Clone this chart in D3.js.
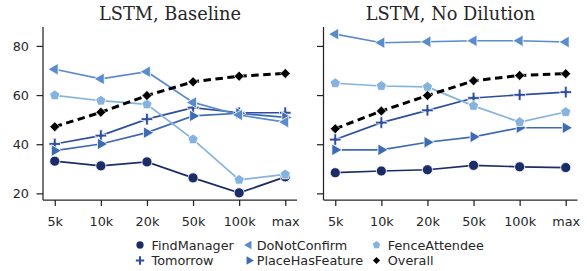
<!DOCTYPE html>
<html>
<head>
<meta charset="utf-8">
<script src="https://cdn.jsdelivr.net/npm/d3@7"></script>
<style>
  body { margin: 0; background: #fff; }
  text { font-family: "DejaVu Sans", sans-serif; fill: #262626; }
</style>
</head>
<body>
<div id="chart"></div>
<script>
// data
const sizes = ["5k", "10k", "20k", "50k", "100k", "max"];
const yTicks = [20, 40, 60, 80];
const seriesNames = ["FindManager", "Tomorrow", "PlaceHasFeature", "DoNotConfirm", "FenceAttendee", "Overall"];

const baselineFindManager = [33.1, 31.2, 32.8, 26.3, 20.2, 26.7];
const baselineTomorrow = [40.1, 43.5, 50.2, 54.9, 52.8, 52.8];
const baselinePlaceHasFeature = [37.4, 40.1, 44.7, 51.5, 52.6, 50.9];
const baselineDoNotConfirm = [70.5, 66.6, 69.5, 57.0, 51.9, 49.0];
const baselineFenceAttendee = [59.9, 57.7, 56.2, 42.0, 25.5, 27.7];
const baselineOverall = [47.1, 53.0, 59.8, 65.4, 67.7, 68.8];

const noDilFindManager = [28.4, 29.1, 29.6, 31.4, 30.8, 30.5];
const noDilTomorrow = [41.9, 48.8, 53.8, 58.8, 60.1, 61.2];
const noDilPlaceHasFeature = [37.7, 37.7, 40.8, 43.0, 46.7, 46.7];
const noDilDoNotConfirm = [84.8, 81.3, 81.7, 82.1, 82.1, 81.6];
const noDilFenceAttendee = [64.8, 63.7, 63.3, 55.6, 49.0, 53.1];
const noDilOverall = [46.3, 53.5, 59.8, 65.8, 68.0, 68.7];

const panels = [
    {title: "LSTM, Baseline", left: 43, showY: true,
     values: [baselineFindManager, baselineTomorrow, baselinePlaceHasFeature,
              baselineDoNotConfirm, baselineFenceAttendee, baselineOverall]},
    {title: "LSTM, No Dilution", left: 323.5, showY: false,
     values: [noDilFindManager, noDilTomorrow, noDilPlaceHasFeature,
              noDilDoNotConfirm, noDilFenceAttendee, noDilOverall]}
];

const style = {
    FindManager:     {color: "#1c2c66", size: 80},
    Tomorrow:        {color: "#2d4e9e"},
    PlaceHasFeature: {color: "#3e6ab3", size: 60, rot: 90},
    DoNotConfirm:    {color: "#5a8ccb", size: 60, rot: -90},
    FenceAttendee:   {color: "#86b3dd"},
    Overall:         {color: "#000000", rot: 45}
};

const W = 587, H = 271;
const plotTop = 27, plotBottom = 200, panelW = 254;

const svg = d3.select("#chart").append("svg")
    .attr("width", W).attr("height", H);

const y = d3.scaleLinear().domain([17.3, 87.7]).range([plotBottom, plotTop]);

const pentagon = r => {
    const pts = d3.range(5).map(i => {
        const a = -Math.PI / 2 + i * 2 * Math.PI / 5;
        return [r * Math.cos(a), r * Math.sin(a)];
    });
    return "M" + pts.join("L") + "Z";
};
const plusPath = (r, w) => `M${-r},${-w}H${-w}V${-r}H${w}V${-w}H${r}V${w}H${w}V${r}H${-w}V${w}H${-r}Z`;

const markerPath = name => {
    const s = style[name];
    if (name === "FenceAttendee") return pentagon(5.4);
    if (name === "Tomorrow") return plusPath(5.8, 1.4);
    if (name === "Overall") return d3.symbol(d3.symbolSquare, 50)();
    if (name === "FindManager") return d3.symbol(d3.symbolCircle, s.size)();
    return d3.symbol(d3.symbolTriangle, s.size)();
};
const markerRot = name => style[name].rot || 0;

panels.forEach(p => {
    const x = d3.scalePoint().domain(sizes)
        .range([p.left, p.left + panelW]).padding(0.255);
    const g = svg.append("g");

    g.append("text")
        .attr("x", p.left + panelW / 2)
        .attr("y", 20)
        .attr("text-anchor", "middle")
        .style("font-family", "'DejaVu Serif', serif")
        .style("font-size", "17.8px")
        .text(p.title);

    const xAxis = g.append("g")
        .attr("transform", `translate(0,${plotBottom})`)
        .call(d3.axisBottom(x).tickSize(6).tickPadding(11));
    const yAxis = g.append("g")
        .attr("transform", `translate(${p.left},0)`)
        .call(d3.axisLeft(y).tickValues(yTicks).tickSize(6.5).tickPadding(7.5)
              .tickFormat(p.showY ? d3.format("d") : () => ""));
    [xAxis, yAxis].forEach(a => {
        a.select(".domain").remove();
        a.selectAll(".tick line").attr("stroke", "#262626").attr("stroke-width", 1.25);
        a.selectAll(".tick text").style("font-size", "12.8px").attr("fill", "#262626");
    });
    g.append("line").attr("x1", p.left).attr("x2", p.left + panelW)
        .attr("y1", plotBottom).attr("y2", plotBottom)
        .attr("stroke", "#262626").attr("stroke-width", 1.25);
    g.append("line").attr("x1", p.left).attr("x2", p.left)
        .attr("y1", plotTop).attr("y2", plotBottom)
        .attr("stroke", "#262626").attr("stroke-width", 1.25);

    const line = d3.line().x((d, i) => x(sizes[i])).y(d => y(d));

    seriesNames.forEach((name, si) => {
        const vals = p.values[si];
        const s = style[name];
        g.append("path")
            .attr("d", line(vals))
            .attr("fill", "none")
            .attr("stroke", s.color)
            .attr("stroke-width", name === "Overall" ? 3 : 1.7)
            .attr("stroke-dasharray", name === "Overall" ? "7.5,4.5" : null);
        g.selectAll(null).data(vals).enter().append("path")
            .attr("d", markerPath(name))
            .attr("transform", (d, i) => `translate(${x(sizes[i])},${y(d)}) rotate(${markerRot(name)})`)
            .attr("fill", s.color)
            .attr("stroke", "#fff")
            .attr("stroke-width", name === "Overall" ? 0.6 : 0.8);
    });
});

// legend
const legendMarkX = [140, 249, 376.5];
const legendTextX = [151.5, 256.7, 387.8];
const legendRows = [245, 260.5];
const legendOrder = [
    ["FindManager", 0, 0], ["DoNotConfirm", 1, 0], ["FenceAttendee", 2, 0],
    ["Tomorrow", 0, 1], ["PlaceHasFeature", 1, 1], ["Overall", 2, 1]
];
const legend = svg.append("g");
legendOrder.forEach(([name, c, r]) => {
    const ly = legendRows[r];
    legend.append("path")
        .attr("d", markerPath(name))
        .attr("transform", `translate(${legendMarkX[c]},${ly}) rotate(${markerRot(name)}) scale(0.72)`)
        .attr("fill", style[name].color);
    legend.append("text")
        .attr("x", legendTextX[c])
        .attr("y", ly + 4.6)
        .style("font-size", "12.8px")
        .text(name);
});
</script>
</body>
</html>
